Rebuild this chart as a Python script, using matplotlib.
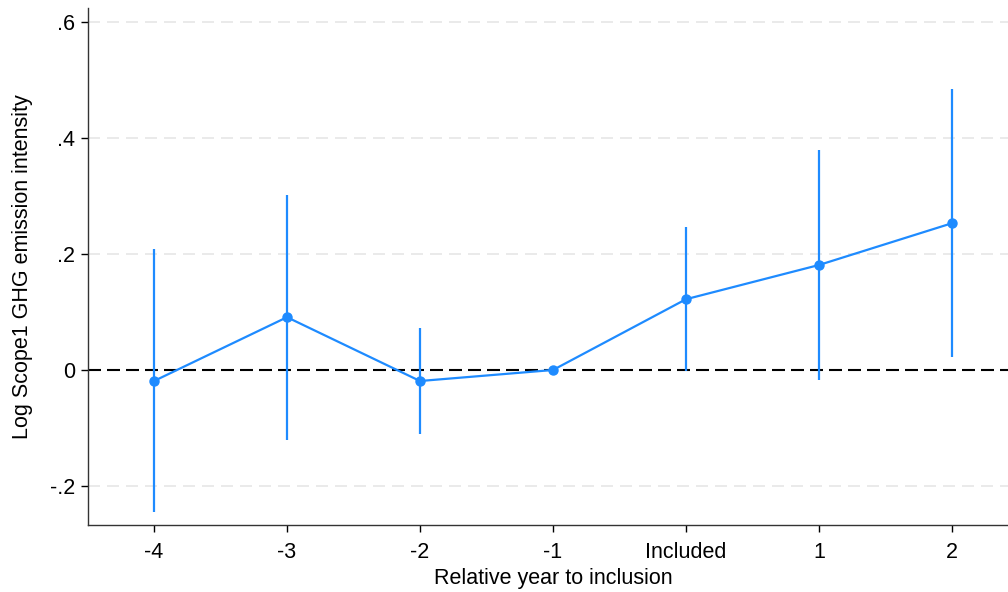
import matplotlib
matplotlib.use("Agg")
import matplotlib.pyplot as plt
import numpy as np

plt.rcParams['font.family'] = ['Liberation Sans', 'DejaVu Sans']

categories = ["-4", "-3", "-2", "-1", "Included", "1", "2"]
coef = [-0.019, 0.091, -0.019, 0.0, 0.122, 0.181, 0.253]
ci_low = [-0.245, -0.121, -0.110, 0.0, -0.001, -0.017, 0.023]
ci_high = [0.208, 0.302, 0.072, 0.0, 0.246, 0.380, 0.484]
yticks = [-0.2, 0.0, 0.2, 0.4, 0.6]
yticklabels = ["-.2", "0", ".2", ".4", ".6"]

W, H = 1008, 592
fig = plt.figure(figsize=(W/100, H/100), dpi=100)
ax = fig.add_axes([87.5/W, (H-525)/H, 931/W, (525-8)/H])

px = 72 / 100  # points per pixel

x = np.arange(len(categories))
blue = "#1E8BFF"
ax.vlines([xi for xi, lo, hi in zip(x, ci_low, ci_high) if hi > lo],
          [lo for lo, hi in zip(ci_low, ci_high) if hi > lo],
          [hi for lo, hi in zip(ci_low, ci_high) if hi > lo],
          color=blue, lw=1.6, zorder=3)
ax.plot(x, coef, color=blue, lw=1.6, marker='o', ms=6.5, zorder=4)

zlw = 1.5
ax.axhline(0, color='black', lw=zlw, ls=(0, (13 * px / zlw, 6 * px / zlw)), zorder=2)

glw = 1.4
for yt in yticks:
    if yt != 0:
        ax.axhline(yt, color='#eaeaea', lw=glw, ls=(0, (12 * px / glw, 7 * px / glw)), zorder=1)

ax.set_xlim(-0.5, 6.5)
ax.set_ylim(-0.2672, 0.624)
ax.set_xticks(x)
ax.set_xticklabels(categories)
ax.set_yticks(yticks)
ax.set_yticklabels(yticklabels)
fs = 15.5
ax.tick_params(axis='both', labelsize=fs, length=5, width=1, colors='black', direction='out')
ax.tick_params(axis='x', pad=7)
ax.tick_params(axis='y', pad=4)
for s in ['top', 'right']:
    ax.spines[s].set_visible(False)
for s in ['left', 'bottom']:
    ax.spines[s].set_linewidth(1.0)
    ax.spines[s].set_color('#333333')

ax.set_xlabel("Relative year to inclusion", fontsize=fs, labelpad=4)
ax.set_ylabel("Log Scope1 GHG emission intensity", fontsize=fs, labelpad=12)

fig.savefig("out.png", dpi=100)
